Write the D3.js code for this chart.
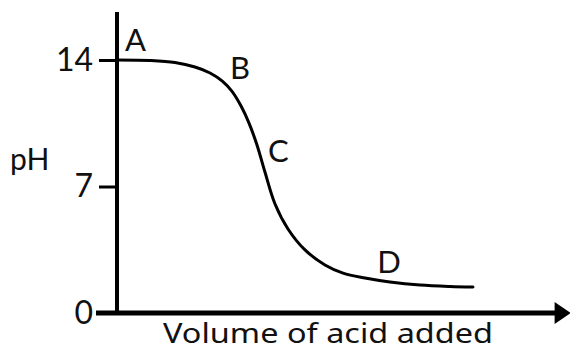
<!DOCTYPE html>
<html>
<head>
<meta charset="utf-8">
<script src="https://cdn.jsdelivr.net/npm/d3@7"></script>
<style>
  html, body { margin: 0; padding: 0; background: #fff; }
  svg { display: block; }
  text { font-family: Lato, "Noto Sans", sans-serif; fill: #111; }
</style>
</head>
<body>
<svg id="chart" width="570" height="352"></svg>
<script>
// Data (volume in arbitrary units, pH)
const volume = [0, 3.77, 6.62, 8.90, 10.62, 11.99, 13.13, 14.16, 15.07, 15.98, 16.89, 18.04, 19.52, 21.46, 23.74, 25.80, 28.31, 31.16, 34.59, 38.01, 40.64];
const pH     = [14.0, 13.97, 13.86, 13.61, 13.28, 12.84, 12.26, 11.45, 10.51, 9.30, 7.80, 6.03, 4.65, 3.49, 2.66, 2.21, 1.94, 1.72, 1.55, 1.47, 1.44];
const yTicks = [0, 7, 14];
const yTickLabels = ["0", "7", "14"];
const pointLabels = ["A", "B", "C", "D"];
const labelVolume = [0.91, 12.9, 17.24, 29.7];
const labelPH = [14.5, 12.95, 8.36, 2.21];
const xTitle = "Volume of acid added";
const yTitle = "pH";

const svg = d3.select("#chart");
const x = d3.scaleLinear().domain([0, 50]).range([117, 555]);
const y = d3.scaleLinear().domain([0, 14]).range([313, 60]);

// y axis ticks & labels
const yAxis = d3.axisLeft(y)
  .tickValues(yTicks)
  .tickFormat((d, i) => yTickLabels[i])
  .tickSizeInner(18)
  .tickSizeOuter(0)
  .tickPadding(6);
const gy = svg.append("g").attr("transform", `translate(${x(0)},0)`).call(yAxis);
gy.select(".domain").remove();
gy.selectAll(".tick line").attr("stroke", "#000").attr("stroke-width", 3);
gy.selectAll(".tick text")
  .style("font-family", "Lato, 'Noto Sans', sans-serif")
  .style("font-size", "32px")
  .attr("fill", "#111");

// y axis line (extends above 14)
svg.append("line")
  .attr("x1", x(0)).attr("x2", x(0))
  .attr("y1", y(0)).attr("y2", y(16.65))
  .attr("stroke", "#000").attr("stroke-width", 4);

// x axis line with arrow
const xStart = x(-2.4), xEnd = x(50.3);
svg.append("line")
  .attr("x1", xStart).attr("x2", xEnd - 2)
  .attr("y1", y(0)).attr("y2", y(0))
  .attr("stroke", "#000").attr("stroke-width", 5);
svg.append("path")
  .attr("d", `M${xEnd - 3},${y(0) - 11} L${xEnd + 13},${y(0)} L${xEnd - 3},${y(0) + 11} Z`)
  .attr("fill", "#000");

// titration curve
const line = d3.line()
  .x((d, i) => x(volume[i]))
  .y((d, i) => y(pH[i]))
  .curve(d3.curveCatmullRom.alpha(0.5));
svg.append("path")
  .datum(volume)
  .attr("d", line)
  .attr("fill", "none")
  .attr("stroke", "#000")
  .attr("stroke-width", 3)
  .attr("stroke-linecap", "round");

// point labels
svg.selectAll(".plabel")
  .data(pointLabels)
  .enter().append("text")
  .attr("class", "plabel")
  .attr("x", (d, i) => x(labelVolume[i]))
  .attr("y", (d, i) => y(labelPH[i]))
  .style("font-size", "31px")
  .text(d => d);

// axis titles
svg.append("text")
  .attr("x", 163).attr("y", 343)
  .attr("textLength", 330)
  .attr("lengthAdjust", "spacingAndGlyphs")
  .style("font-family", "'Noto Sans', Lato, sans-serif")
  .style("font-size", "27px")
  .text(xTitle);

svg.append("text")
  .attr("x", 10).attr("y", 170)
  .style("font-size", "30px")
  .text(yTitle);
</script>
</body>
</html>
